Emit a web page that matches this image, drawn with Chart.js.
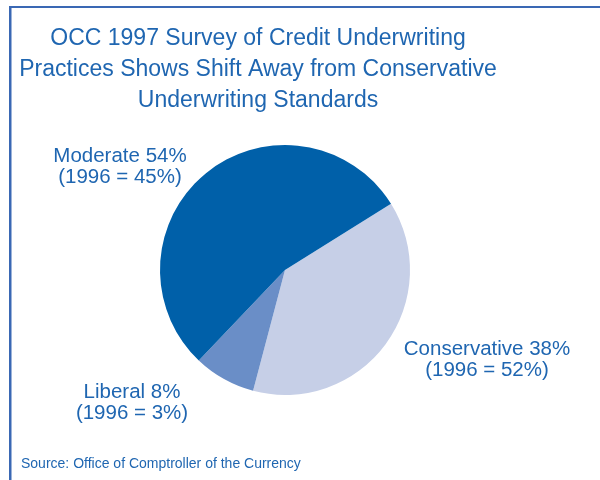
<!DOCTYPE html>
<html>
<head>
<meta charset="utf-8">
<script src="https://cdn.jsdelivr.net/npm/chart.js@4/dist/chart.umd.min.js"></script>
<style>
  html, body { margin: 0; padding: 0; background: #fff; }
  #wrap { position: relative; width: 600px; height: 480px; }
</style>
</head>
<body>
<div id="wrap"><canvas id="pie" width="600" height="480"></canvas></div>
<script>
// survey results, order is clockwise starting at the upper right
const categories = ['Conservative', 'Liberal', 'Moderate'];
const share1997 = [38, 8, 54];
const share1996 = [52, 3, 45];
const sliceColors = ['#C6CFE7', '#6A8EC7', '#0060A9'];

const titleLines = [
  'OCC 1997 Survey of Credit Underwriting',
  'Practices Shows Shift Away from Conservative',
  'Underwriting Standards'
];
const sourceText = 'Source: Office of Comptroller of the Currency';

const textBlue = '#1F66B1';
const FONT = '"Liberation Sans", Arial, Helvetica, sans-serif';

// where each slice's caption sits (center x, first baseline)
const labelPos = {
  Conservative: [487, 355],
  Liberal: [132, 398],
  Moderate: [120, 162]
};

const decorations = {
  id: 'decorations',
  afterDraw(chart) {
    const ctx = chart.ctx;
    ctx.save();
    // frame on the top and left
    ctx.fillStyle = '#3A68B4';
    ctx.fillRect(9, 6, 600, 2);
    ctx.fillRect(9, 6, 2.5, 474);

    ctx.fillStyle = textBlue;
    ctx.textAlign = 'center';
    ctx.textBaseline = 'alphabetic';
    ctx.font = '23px ' + FONT;
    titleLines.forEach((line, i) => ctx.fillText(line, 258, 45 + i * 31));

    ctx.font = '20.5px ' + FONT;
    categories.forEach((name, i) => {
      const [x, y] = labelPos[name];
      ctx.fillText(name + ' ' + share1997[i] + '%', x, y);
      ctx.fillText('(1996 = ' + share1996[i] + '%)', x, y + 21);
    });

    ctx.textAlign = 'left';
    ctx.font = '14px ' + FONT;
    ctx.fillText(sourceText, 21, 468);
    ctx.restore();
  }
};

new Chart(document.getElementById('pie'), {
  type: 'pie',
  data: {
    labels: categories,
    datasets: [{
      data: share1997,
      backgroundColor: sliceColors,
      borderWidth: 0
    }]
  },
  options: {
    responsive: false,
    animation: false,
    rotation: 58,
    layout: { padding: { left: 160, right: 190, top: 145, bottom: 85 } },
    plugins: {
      legend: { display: false },
      tooltip: { enabled: false }
    }
  },
  plugins: [decorations]
});
</script>
</body>
</html>
